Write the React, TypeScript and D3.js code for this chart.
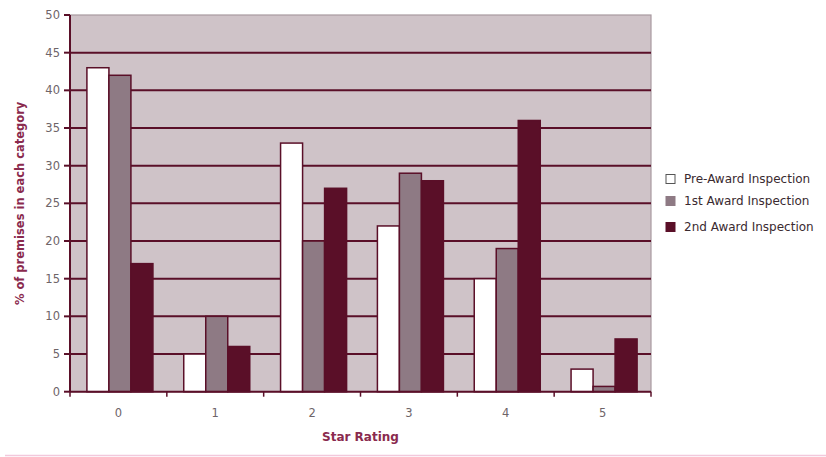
import React from "react";
import * as d3 from "d3";

const categories = ["0", "1", "2", "3", "4", "5"];
const seriesNames = ["Pre-Award Inspection", "1st Award Inspection", "2nd Award Inspection"];
const preAward = [43, 5, 33, 22, 15, 3];
const firstAward = [42, 10, 20, 29, 19, 0.7];
const secondAward = [17, 6, 27, 28, 36, 7];
const yTicks = [0, 5, 10, 15, 20, 25, 30, 35, 40, 45, 50];
const seriesColors = ["#ffffff", "#8e7a84", "#5a0f28"];

const W = 826;
const H = 457;
const M = { left: 70, right: 651, top: 15, bottom: 391.7 };

export default function App() {
  const series = [preAward, firstAward, secondAward];
  const x = d3.scaleBand<string>().domain(categories).range([M.left, M.right]).paddingInner(0).paddingOuter(0);
  const y = d3.scaleLinear().domain([0, 50]).range([M.bottom, M.top]);
  const inner = d3
    .scaleBand<number>()
    .domain([0, 1, 2])
    .range([0, x.bandwidth()])
    .paddingInner(0)
    .paddingOuter(0.7);

  const stroke = "#5a0f28";
  const labelColor = "#6e6468";
  const titleColor = "#8a2a4e";

  return (
    <svg
      width={W}
      height={H}
      style={{ position: "absolute", left: 0, top: 0, background: "#ffffff" }}
      fontFamily="Verdana, 'DejaVu Sans', sans-serif"
    >
      {/* plot background */}
      <rect
        x={M.left}
        y={M.top}
        width={M.right - M.left}
        height={M.bottom - M.top}
        fill="#cfc3c8"
        stroke="#a89aa0"
        strokeWidth={1.2}
      />
      {/* gridlines */}
      {yTicks
        .filter((t) => t > 0 && t < 50)
        .map((t) => (
          <line key={"g" + t} x1={M.left} x2={M.right} y1={y(t)} y2={y(t)} stroke={stroke} strokeWidth={2} />
        ))}
      {/* bars */}
      {categories.map((c, ci) =>
        series.map((s, si) => {
          const bx = (x(c) as number) + (inner(si) as number) + 1.5;
          const by = y(s[ci]);
          return (
            <rect
              key={c + "-" + si}
              x={bx}
              y={by}
              width={inner.bandwidth()}
              height={M.bottom - by}
              fill={seriesColors[si]}
              stroke={stroke}
              strokeWidth={1.5}
            />
          );
        })
      )}
      {/* y axis */}
      <line x1={M.left} x2={M.left} y1={M.top} y2={M.bottom} stroke={stroke} strokeWidth={2} />
      {yTicks.map((t) => (
        <g key={"y" + t}>
          <line x1={M.left - 6} x2={M.left} y1={y(t)} y2={y(t)} stroke={stroke} strokeWidth={2} />
          <text
            x={M.left - 10}
            y={y(t)}
            dy="0.35em"
            textAnchor="end"
            fontSize={11.5}
            fill={labelColor}
          >
            {t}
          </text>
        </g>
      ))}
      {/* x axis */}
      <line x1={M.left} x2={M.right} y1={M.bottom} y2={M.bottom} stroke={stroke} strokeWidth={2} />
      {categories.map((c) => (
        <g key={"x" + c}>
          <line
            x1={(x(c) as number) + x.bandwidth()}
            x2={(x(c) as number) + x.bandwidth()}
            y1={M.bottom}
            y2={M.bottom + 5}
            stroke={stroke}
            strokeWidth={1.5}
          />
          <text
            x={(x(c) as number) + x.bandwidth() / 2}
            y={M.bottom + 21}
            dy="0.35em"
            textAnchor="middle"
            fontSize={11.5}
            fill={labelColor}
          >
            {c}
          </text>
        </g>
      ))}
      <line x1={M.left} x2={M.left} y1={M.bottom} y2={M.bottom + 5} stroke={stroke} strokeWidth={1.5} />
      {/* axis titles */}
      <text
        x={(M.left + M.right) / 2}
        y={437}
        dy="0.35em"
        textAnchor="middle"
        fontSize={12}
        fontWeight="bold"
        fill={titleColor}
      >
        Star Rating
      </text>
      <text
        transform={`translate(20, ${(M.top + M.bottom) / 2}) rotate(-90)`}
        textAnchor="middle"
        dy="0.35em"
        fontSize={11.5}
        fontWeight="bold"
        fill={titleColor}
      >
        % of premises in each category
      </text>
      {/* legend */}
      {seriesNames.map((name, i) => {
        const ly = [179, 201, 227][i];
        return (
          <g key={name}>
            <rect x={666} y={ly - 4.5} width={9} height={9} fill={seriesColors[i]} stroke={i === 0 ? "#555" : seriesColors[i]} strokeWidth={1} />
            <text x={684} y={ly} dy="0.35em" fontSize={12} fill="#3a2a30" fontFamily="'DejaVu Sans', sans-serif">
              {name}
            </text>
          </g>
        );
      })}
      {/* bottom rule */}
      <line x1={5} x2={W} y1={455.5} y2={455.5} stroke="#f2c8dc" strokeWidth={1.5} />
    </svg>
  );
}
